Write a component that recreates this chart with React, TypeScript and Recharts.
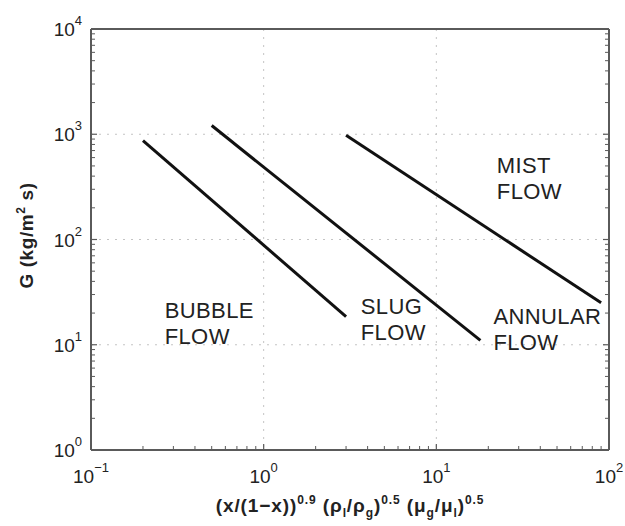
import React from "react";
import {
  LineChart,
  Line,
  XAxis,
  YAxis,
  CartesianGrid,
  ReferenceDot,
} from "recharts";

// flow-regime boundaries, x = Lockhart-Martinelli style parameter, G = mass flux
const bubbleSlugX = [0.2, 3];
const bubbleSlugG = [870, 18.5];
const slugAnnularX = [0.5, 18];
const slugAnnularG = [1210, 11];
const annularMistX = [3, 90];
const annularMistG = [980, 25];

// region names and where their first line starts (data coords)
const regionLines = [
  ["BUBBLE", "FLOW"],
  ["SLUG", "FLOW"],
  ["ANNULAR", "FLOW"],
  ["MIST", "FLOW"],
];
const regionX = [0.267, 3.65, 21.4, 22.4];
const regionG = [18, 19.7, 15.8, 425];

const xTicks = [0.1, 1, 10, 100];
const xTickExp = ["\u22121", "0", "1", "2"];
const yTicks = [1, 10, 100, 1000, 10000];
const yTickExp = ["0", "1", "2", "3", "4"];

const decadesX = [0.1, 1, 10];
const decadesY = [1, 10, 100, 1000];
const steps = [2, 3, 4, 5, 6, 7, 8, 9];
const xMinor = decadesX.flatMap((d) => steps.map((k) => Number((d * k).toPrecision(3))));
const yMinor = decadesY.flatMap((d) => steps.map((k) => Number((d * k).toPrecision(3))));
const xAll = [...xTicks, ...xMinor];
const yAll = [...yTicks, ...yMinor];

const toPoints = (xs: number[], gs: number[]) => xs.map((x, i) => ({ x, g: gs[i] }));

const FONT = '"Liberation Sans", Arial, Helvetica, sans-serif';
const FRAME = "#5a5a5a";
const INK = "#222";
const MAJOR_LEN = 6;
const MINOR_LEN = 4;

// tick marks point into the plot box on every side
const inwardMark = (side: string, x: number, y: number, len: number) => {
  const d = { bottom: [0, -len], top: [0, len], left: [len, 0], right: [-len, 0] }[side] as number[];
  return <line x1={x} y1={y} x2={x + d[0]} y2={y + d[1]} stroke={FRAME} strokeWidth={len === MAJOR_LEN ? 1.2 : 1} />;
};

const BottomTick = (props: any) => {
  const { x, y, payload } = props;
  const i = xTicks.indexOf(payload.value);
  return (
    <g>
      {inwardMark("bottom", x, y, i >= 0 ? MAJOR_LEN : MINOR_LEN)}
      {i >= 0 && (
        <text x={x} y={y + 33} textAnchor="middle" fontFamily={FONT} fontSize={19} fill={INK}>
          <tspan>10</tspan>
          <tspan dy={-11} fontSize={13}>{xTickExp[i]}</tspan>
        </text>
      )}
    </g>
  );
};

const LeftTick = (props: any) => {
  const { x, y, payload } = props;
  const i = yTicks.indexOf(payload.value);
  return (
    <g>
      {inwardMark("left", x, y, i >= 0 ? MAJOR_LEN : MINOR_LEN)}
      {i >= 0 && (
        <text x={x - 9} y={y + 7} textAnchor="end" fontFamily={FONT} fontSize={19} fill={INK}>
          <tspan>10</tspan>
          <tspan dy={-11} fontSize={13}>{yTickExp[i]}</tspan>
        </text>
      )}
    </g>
  );
};

const TopTick = (props: any) => {
  const { x, y, payload } = props;
  return inwardMark("top", x, y, xTicks.includes(payload.value) ? MAJOR_LEN : MINOR_LEN);
};

const RightTick = (props: any) => {
  const { x, y, payload } = props;
  return inwardMark("right", x, y, yTicks.includes(payload.value) ? MAJOR_LEN : MINOR_LEN);
};

const XTitle = (props: any) => {
  const vb = props.viewBox;
  const cx = vb.x + vb.width / 2;
  return (
    <text x={cx} y={vb.y + 62} textAnchor="middle" fontFamily={FONT} fontSize={19} letterSpacing={0.9}
      fontWeight="bold" fill={INK}>
      <tspan>(x/(1−x))</tspan>
      <tspan dy={-8} fontSize={12}>0.9</tspan>
      <tspan dy={8}> (ρ</tspan>
      <tspan dy={5} fontSize={12}>l</tspan>
      <tspan dy={-5}>/ρ</tspan>
      <tspan dy={5} fontSize={12}>g</tspan>
      <tspan dy={-5}>)</tspan>
      <tspan dy={-8} fontSize={12}>0.5</tspan>
      <tspan dy={8}> (μ</tspan>
      <tspan dy={5} fontSize={12}>g</tspan>
      <tspan dy={-5}>/μ</tspan>
      <tspan dy={5} fontSize={12}>l</tspan>
      <tspan dy={-5}>)</tspan>
      <tspan dy={-8} fontSize={12}>0.5</tspan>
    </text>
  );
};

const YTitle = (props: any) => {
  const vb = props.viewBox;
  const x = vb.x + 33;
  const y = vb.y + vb.height / 2 - 4;
  return (
    <text
      x={x}
      y={y}
      transform={`rotate(-90 ${x} ${y})`}
      textAnchor="middle"
      fontFamily={FONT}
      fontSize={19}
      letterSpacing={0.6}
      fontWeight="bold"
      fill={INK}
    >
      <tspan>G (kg/m</tspan>
      <tspan dy={-8} fontSize={12}>2</tspan>
      <tspan dy={8}> s)</tspan>
    </text>
  );
};

const regionLabel = (lines: string[]) => (props: any) => {
  const vb = props.viewBox;
  return (
    <text x={vb.x} y={vb.y} fontFamily={FONT} fontSize={22} letterSpacing={0.4} fill={INK}>
      <tspan x={vb.x}>{lines[0]}</tspan>
      <tspan x={vb.x} dy={26}>{lines[1]}</tspan>
    </text>
  );
};

const boundaries = [
  toPoints(bubbleSlugX, bubbleSlugG),
  toPoints(slugAnnularX, slugAnnularG),
  toPoints(annularMistX, annularMistG),
];

export default function App() {
  const logX = { type: "number" as const, scale: "log" as const, domain: [0.1, 100], allowDataOverflow: true };
  const logY = { type: "number" as const, scale: "log" as const, domain: [1, 10000], allowDataOverflow: true };
  const frame = { stroke: FRAME, strokeWidth: 2 };
  const common = { interval: 0 as const, tickSize: 0, tickMargin: 0, tickLine: false, axisLine: frame };
  return (
    <div style={{ position: "absolute", left: 0, top: 0, background: "#fff" }}>
      <LineChart width={625} height={526} margin={{ top: 19, right: 6, bottom: 0, left: 0 }}>
        {/* dotted grid only at the decades */}
        <CartesianGrid
          stroke="#c4c4c4"
          strokeDasharray="2 6"
          strokeWidth={1}
          verticalValues={xTicks}
          horizontalValues={yTicks}
        />

        <XAxis {...logX} {...common} dataKey="x" orientation="bottom" height={76} ticks={xAll}
          tick={<BottomTick />} label={<XTitle />} />
        <XAxis {...logX} {...common} xAxisId="top" orientation="top" height={10} ticks={xAll}
          tick={<TopTick />} />

        <YAxis {...logY} {...common} orientation="left" width={91} ticks={yAll}
          tick={<LeftTick />} label={<YTitle />} />
        <YAxis {...logY} {...common} yAxisId="right" orientation="right" width={10} ticks={yAll}
          tick={<RightTick />} />

        {boundaries.map((pts, i) => (
          <Line
            key={i}
            data={pts}
            dataKey="g"
            type="linear"
            stroke="#111"
            strokeWidth={3}
            dot={false}
            activeDot={false}
            isAnimationActive={false}
          />
        ))}

        {regionLines.map((lines, i) => (
          <ReferenceDot
            key={lines[0]}
            x={regionX[i]}
            y={regionG[i]}
            r={0}
            fill="none"
            stroke="none"
            label={regionLabel(lines)}
          />
        ))}
      </LineChart>
    </div>
  );
}
